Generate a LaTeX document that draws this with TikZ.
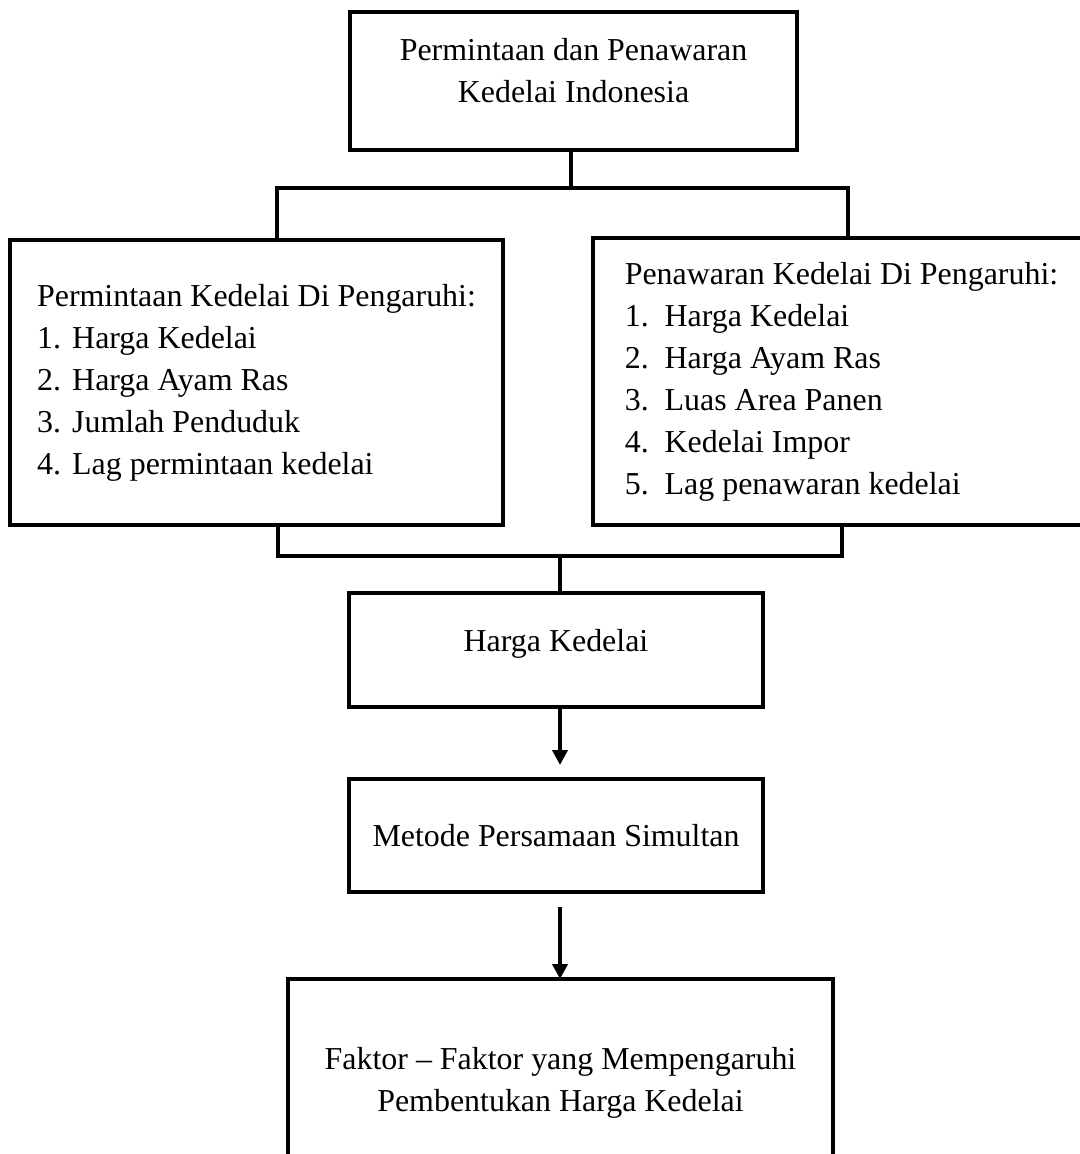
\documentclass[tikz,border=0pt]{standalone}
\usepackage{fontspec}
\setmainfont{Liberation Serif}
\usetikzlibrary{arrows.meta}
\usetikzlibrary{positioning}
\def\px{0.7113pt}
\newlength\pxd \setlength\pxd{0.7113pt}
\def\nomor#1{\makebox[1.1em][l]{#1}}
\def\nomorb#1{\makebox[1.25em][l]{#1}}
\def\angkat#1#2{\raisebox{#1\pxd}[\height][\depth]{\begin{tabular}{@{}c@{}}#2\end{tabular}}}

\begin{document}
\begin{tikzpicture}[x=0.025cm,y=-0.025cm,line width=2.6pt,
		>={Triangle[length=10.5pt,width=10.5pt]},
		font=\fontsize{22.7}{29.9}\selectfont]
		\tikzstyle{box}=[draw,rectangle,align=center,inner sep=0pt,outer sep=0pt]
		\tikzstyle{listbox}=[box,align=left]
		\useasboundingbox (0,0) rectangle (1079,1154);
		
		\node[box,minimum width={447*\px},minimum height={138*\px}] (top) at (573.5,81)
			{\angkat{8}{Permintaan dan Penawaran\\Kedelai Indonesia}};
		\node[listbox,minimum width={493*\px},minimum height={285*\px}] (dmd) at (256.5,382.5)
			{Permintaan Kedelai Di Pengaruhi:\\
			\nomor{1.}Harga Kedelai\\
			\nomor{2.}Harga Ayam Ras\\
			\nomor{3.}Jumlah Penduduk\\
			\nomor{4.}Lag permintaan kedelai};
		\node[listbox,minimum width={497*\px},minimum height={287*\px}] (sup) at (841.5,381.5)
			{Penawaran Kedelai Di Pengaruhi:\\
			\nomorb{1.}Harga Kedelai\\
			\nomorb{2.}Harga Ayam Ras\\
			\nomorb{3.}Luas Area Panen\\
			\nomorb{4.}Kedelai Impor\\
			\nomorb{5.}Lag penawaran kedelai};
		\node[box,minimum width={414*\px},minimum height={114*\px}] (harga) at (556,650)
			{\angkat{7}{Harga Kedelai}};
		\node[box,minimum width={414*\px},minimum height={113*\px}] (metode) at (556,835.5) {Metode Persamaan Simultan};
		\node[box,minimum width={545*\px},minimum height={191*\px}] (faktor) at (560.5,1074.5)
			{\angkat{-8}{Faktor -- Faktor yang Mempengaruhi\\Pembentukan Harga Kedelai}};
		
		% cabang atas
		\coordinate (j1) at (571,188);
		\coordinate (jl) at (277,188);
		\coordinate (jr) at (848,188);
		\draw (top.south -| j1) -- (j1);
		\draw (dmd.north -| jl) -- (jl) -- (jr) -- (sup.north -| jr);
		
		% cabang bawah
		\coordinate (k1) at (560,556);
		\coordinate (kl) at (278,556);
		\coordinate (kr) at (842,556);
		\draw (dmd.south -| kl) -- (kl) -- (kr) -- (sup.south -| kr);
		\draw (k1) -- (harga.north -| k1);
		
		% panah
		\coordinate (a1) at (560,765);
		\coordinate (a2) at (560,907);
		\draw[->] (harga.south -| a1) -- (a1);
		\draw[->] (a2) -- (faktor.north -| a2);
\end{tikzpicture}
\end{document}
